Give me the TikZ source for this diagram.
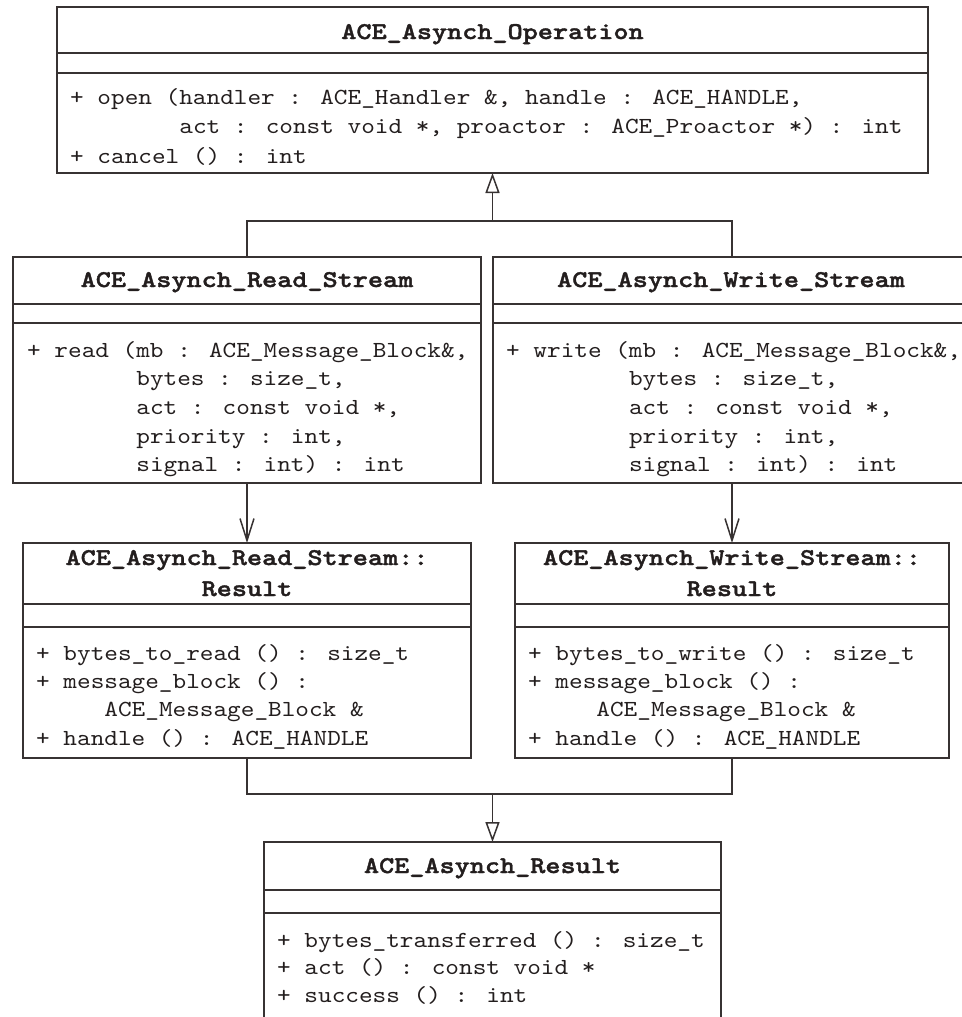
\documentclass[tikz,border=0pt]{standalone}
\usepackage{fontspec}
\newfontfamily\memfont{lmmono10-regular}[Extension=.otf, FakeStretch=1.13]
\newfontfamily\ttlfont{lmmonolt10-bold}[Extension=.otf, FakeStretch=1.2, FakeBold=1.6]
\usetikzlibrary{arrows.meta}
\definecolor{linec}{RGB}{55,50,50}
\definecolor{textc}{RGB}{35,30,30}
\tikzset{
  umlbox/.style={draw=linec, line width=1.5pt, inner sep=0pt, outer sep=0pt},
  sepline/.style={draw=linec, line width=1.5pt},
  ttl/.style={font=\ttlfont\fontsize{24}{30}\selectfont, text=textc, inner sep=0pt, anchor=base},
  mem/.style={font=\memfont\fontsize{23}{28}\selectfont, text=textc, inner sep=0pt, anchor=base west},
  conn/.style={draw=linec, line width=1.5pt},
  gen/.style={conn, -{Triangle[open, length=20pt, width=14pt, line width=1.5pt]}},
  assoc/.style={conn, -{Straight Barb[length=22pt, width=14pt, line width=1.5pt]}}
}
\begin{document}
\begin{tikzpicture}[x=1pt, y=-1pt]
\fill[white] (0,0) rectangle (961,1017);
\useasboundingbox (0,0) rectangle (961,1017);

% ---- ACE_Asynch_Operation
\node[umlbox, minimum width=871pt, minimum height=166pt] (op) at (492.5,90) {};
\draw[sepline] (op.west |- 0,53) -- (op.east |- 0,53);
\draw[sepline] (op.west |- 0,73) -- (op.east |- 0,73);
\node[ttl] (opt) at (492.5,39) {ACE\_Asynch\_Operation};
\node[mem] (opm1) at (70,104) {+ open (handler : ACE\_Handler \&, handle : ACE\_HANDLE,};
\node[mem] (opm2) at (70,133.5) {\phantom{+ open (}act : const void *, proactor : ACE\_Proactor *) : int};
\node[mem] (opm3) at (70,163) {+ cancel () : int};

% ---- ACE_Asynch_Read_Stream
\node[umlbox, minimum width=468pt, minimum height=226pt] (rs) at (247,370) {};
\draw[sepline] (rs.west |- 0,304) -- (rs.east |- 0,304);
\draw[sepline] (rs.west |- 0,323) -- (rs.east |- 0,323);
\node[ttl] (rst) at (247,287) {ACE\_Asynch\_Read\_Stream};
\node[mem] (rsm1) at (27,357) {+ read (mb : ACE\_Message\_Block\&,};
\node[mem] (rsm2) at (27,385.5) {\phantom{+ read (}bytes : size\_t,};
\node[mem] (rsm3) at (27,414) {\phantom{+ read (}act : const void *,};
\node[mem] (rsm4) at (27,443) {\phantom{+ read (}priority : int,};
\node[mem] (rsm5) at (27,471) {\phantom{+ read (}signal : int) : int};

% ---- ACE_Asynch_Write_Stream
\node[umlbox, minimum width=478pt, minimum height=226pt] (ws) at (732,370) {};
\draw[sepline] (ws.west |- 0,304) -- (ws.east |- 0,304);
\draw[sepline] (ws.west |- 0,323) -- (ws.east |- 0,323);
\node[ttl] (wst) at (731,287) {ACE\_Asynch\_Write\_Stream};
\node[mem] (wsm1) at (506,357) {+ write (mb : ACE\_Message\_Block\&,};
\node[mem] (wsm2) at (506,385.5) {\phantom{+ write (}bytes : size\_t,};
\node[mem] (wsm3) at (506,414) {\phantom{+ write (}act : const void *,};
\node[mem] (wsm4) at (506,443) {\phantom{+ write (}priority : int,};
\node[mem] (wsm5) at (506,471) {\phantom{+ write (}signal : int) : int};

% ---- ACE_Asynch_Read_Stream::Result
\node[umlbox, minimum width=448pt, minimum height=215pt] (rr) at (247,650.5) {};
\draw[sepline] (rr.west |- 0,604) -- (rr.east |- 0,604);
\draw[sepline] (rr.west |- 0,627) -- (rr.east |- 0,627);
\node[ttl] (rrt1) at (247,565) {ACE\_Asynch\_Read\_Stream::};
\node[ttl] (rrt2) at (247,596) {Result};
\node[mem] (rrm1) at (36,660) {+ bytes\_to\_read () : size\_t};
\node[mem] (rrm2) at (36,688) {+ message\_block () :};
\node[mem] (rrm3) at (36,716.5) {\phantom{+ mes}ACE\_Message\_Block \&};
\node[mem] (rrm4) at (36,745) {+ handle () : ACE\_HANDLE};

% ---- ACE_Asynch_Write_Stream::Result
\node[umlbox, minimum width=434pt, minimum height=215pt] (wr) at (732,650.5) {};
\draw[sepline] (wr.west |- 0,604) -- (wr.east |- 0,604);
\draw[sepline] (wr.west |- 0,627) -- (wr.east |- 0,627);
\node[ttl] (wrt1) at (732,565) {ACE\_Asynch\_Write\_Stream::};
\node[ttl] (wrt2) at (732,596) {Result};
\node[mem] (wrm1) at (528,660) {+ bytes\_to\_write () : size\_t};
\node[mem] (wrm2) at (528,688) {+ message\_block () :};
\node[mem] (wrm3) at (528,716.5) {\phantom{+ mes}ACE\_Message\_Block \&};
\node[mem] (wrm4) at (528,745) {+ handle () : ACE\_HANDLE};

% ---- ACE_Asynch_Result
\node[umlbox, minimum width=457pt, minimum height=218pt] (ar) at (492.5,951) {};
\draw[sepline] (ar.west |- 0,890) -- (ar.east |- 0,890);
\draw[sepline] (ar.west |- 0,913) -- (ar.east |- 0,913);
\node[ttl] (art) at (492.5,873) {ACE\_Asynch\_Result};
\node[mem] (arm1) at (277,947) {+ bytes\_transferred () : size\_t};
\node[mem] (arm2) at (277,974.5) {+ act () : const void *};
\node[mem] (arm3) at (277,1002) {+ success () : int};

% ---- connectors
\coordinate (j1) at (492.5,221);
\draw[conn] (rs.north) |- (j1);
\draw[conn] (ws.north) |- (j1);
\draw[gen] (j1) -- (op.south);

\draw[assoc] (rs.south) -- (rr.north);
\draw[assoc] (ws.south) -- (wr.north);

\coordinate (j2) at (492.5,794);
\draw[conn] (rr.south) |- (j2);
\draw[conn] (wr.south) |- (j2);
\draw[gen] (j2) -- (ar.north);
\end{tikzpicture}
\end{document}
